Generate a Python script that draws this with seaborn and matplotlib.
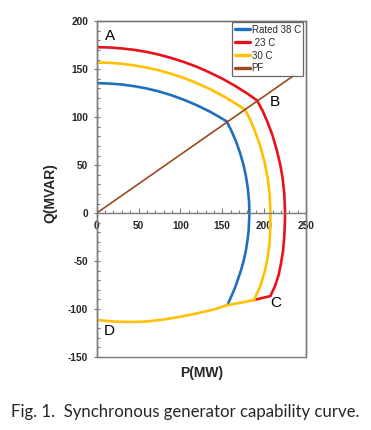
import matplotlib
matplotlib.use("Agg")
import matplotlib.pyplot as plt
from matplotlib.ticker import MultipleLocator
import seaborn as sns
import pandas as pd

# ---- data ----
blue_P = [0, 15, 30, 45, 60, 75, 90, 105, 120, 135, 145, 155.3,
          161, 166, 171, 175, 178, 180.5, 182, 182.4, 181.5, 180.4, 178, 175, 171.5, 166, 161, 156.5]
blue_Q = [135.5, 135.1, 134.1, 132.3, 129.9, 126.7, 122.7, 117.9, 112.3, 105.9, 101.0, 95.6,
          85.7, 75.6, 63.4, 51.4, 39.8, 26.2, 12, 0, -18, -26.7, -40, -51.5, -62, -76, -86.5, -95.2]

red_P = [0, 15, 30, 45, 60, 75, 90, 105, 120, 135, 150, 165, 180, 191.5,
         198, 204, 210, 215, 219, 222, 224, 225, 224.7, 224, 222.5, 220, 217.5, 213, 207.5, 188]
red_Q = [173, 172.7, 171.7, 170.2, 168.0, 165.1, 161.5, 157.3, 152.4, 146.6, 140.2, 132.8, 124.6, 117.5,
         107, 95, 81, 66, 51.5, 37, 21, 0, -12, -25, -40, -53, -64, -76, -86.5, -90.5]

yellow_P = [0, 15, 30, 45, 60, 75, 90, 105, 120, 135, 150, 165, 177.2,
            183, 189, 195, 200, 204, 206.5, 207.5, 207.3, 206.5, 204.5, 201, 195.5, 188,
            175, 156.5, 140, 120, 100, 80, 60, 40, 20, 0]
yellow_Q = [157, 156.7, 155.7, 154.0, 151.7, 148.7, 145.0, 140.6, 135.4, 129.4, 122.5, 114.8, 107.8,
            98, 85.5, 71, 55, 38, 20, 0, -15, -30, -45, -60, -76, -90.5,
            -93, -95.8, -100.5, -104.5, -108, -111, -113, -113.5, -113, -111.5]

pf_P = [0, 235.5]
pf_Q = [0, 143.5]

series_names = ["Rated 38 C", " 23 C", "30 C", "PF"]
series_colors = ["#1F6FBE", "#E8121B", "#FFC000", "#9B4A1C"]

xticks = [0, 50, 100, 150, 200, 250]
yticks = [-150, -100, -50, 0, 50, 100, 150, 200]

point_labels = ["A", "B", "C", "D"]
point_P = [16, 213, 214, 15]
point_Q = [185, 116, -94, -123]

caption = "Fig. 1.  Synchronous generator capability curve."

# ---- plotting ----
sns.set_style("white")
plt.rcParams["font.family"] = ["Liberation Sans", "DejaVu Sans"]

fig = plt.figure(figsize=(3.71, 4.30), dpi=100)
ax = fig.add_axes([0.2606, 0.1698, 0.5642, 0.7807])

curves = [(blue_P, blue_Q), (red_P, red_Q), (yellow_P, yellow_Q), (pf_P, pf_Q)]
widths = [1.9, 1.9, 1.9, 1.2]
for (P, Q), name, col, lw in zip(curves, series_names, series_colors, widths):
    df = pd.DataFrame({"P": P, "Q": Q})
    sns.lineplot(data=df, x="P", y="Q", sort=False, estimator=None,
                 color=col, linewidth=lw, label=name, ax=ax)

frame_col = "#7a7a7a"
ax.spines["bottom"].set_position(("data", 0))
for s in ["top", "right", "left", "bottom"]:
    ax.spines[s].set_color(frame_col)
    ax.spines[s].set_linewidth(1.0)
ax.patch.set_edgecolor(frame_col)
ax.patch.set_linewidth(1.0)

ax.set_xlim(0, 250)
ax.set_ylim(-150, 200)
ax.set_xticks(xticks)
ax.set_yticks(yticks)
ax.set_xticklabels([str(v) for v in xticks], fontweight="bold", fontsize=7.3)
ax.set_yticklabels([str(v) for v in yticks], fontweight="bold", fontsize=7.3)
ax.xaxis.set_minor_locator(MultipleLocator(10))
ax.yaxis.set_minor_locator(MultipleLocator(10))

ax.tick_params(axis="x", which="major", direction="in", length=3.5, width=0.8,
               color=frame_col, pad=6.0, bottom=True, top=False)
ax.tick_params(axis="x", which="minor", direction="in", length=2.2, width=0.8,
               color=frame_col, bottom=True, top=False)
ax.tick_params(axis="y", which="major", direction="inout", length=4.5, width=0.8,
               color=frame_col, pad=4.0, left=True, right=False)
ax.tick_params(axis="y", which="minor", direction="in", length=2.2, width=0.8,
               color=frame_col, left=True, right=False)

ax.set_xlabel("P(MW)", fontweight="bold", fontsize=10)
ax.set_ylabel("Q(MVAR)", fontweight="bold", fontsize=10)
ax.xaxis.set_label_coords(0.5, -0.028)
ax.yaxis.set_label_coords(-0.187, 0.489)

for t, px, qy in zip(point_labels, point_P, point_Q):
    ax.text(px, qy, t, fontsize=11, ha="center", va="center", color="black")

leg = ax.legend(loc="upper right", bbox_to_anchor=(0.986, 0.997), fontsize=7,
                frameon=True, fancybox=False, edgecolor="#444444",
                handlelength=1.6, handletextpad=0.15, borderpad=0.25,
                labelspacing=0.3, borderaxespad=0.0)
leg.get_frame().set_linewidth(0.9)
for h in leg.get_lines():
    h.set_linewidth(2.4)

fig.text(0.4987, 0.043, caption, fontsize=12.1, ha="center", va="center",
         family=["Lato", "DejaVu Sans"])

fig.savefig("out.png", dpi=100)
